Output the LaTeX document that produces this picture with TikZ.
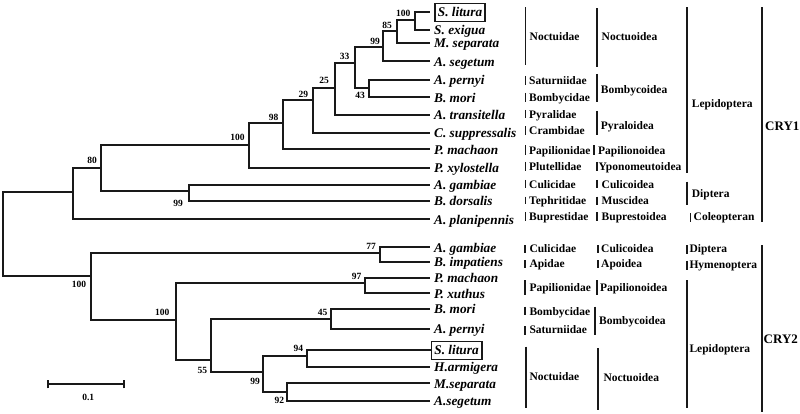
\documentclass[tikz,border=0pt]{standalone}
\usepackage{fontspec}
\setmainfont{Liberation Serif}
\begin{document}
\begin{tikzpicture}[x=1pt,y=-1pt,
  br/.style={line width=1.9pt, draw=black!90, line join=miter},
  bar/.style={line width=1.7pt, draw=black!90},
  sp/.style={anchor=west, inner sep=0pt, font=\fontsize{13.3}{14}\selectfont\bfseries\itshape, text height=8.8, text depth=0},
  spbox/.style={sp, draw=black!90, line width=1.7pt, inner xsep=3pt, inner ysep=4.5pt},
  bs/.style={inner sep=0pt, font=\fontsize{9.5}{10}\selectfont\bfseries},
  fam/.style={anchor=west, inner sep=0pt, font=\fontsize{11.5}{12}\selectfont\bfseries, text height=7.6, text depth=0},
  cry/.style={anchor=west, inner sep=0pt, font=\fontsize{13}{14}\selectfont\bfseries, text height=8.6, text depth=0}
]
\useasboundingbox (0,0) rectangle (800,414);
% ---------- internal nodes ----------
\coordinate (r) at (3,234);
% CRY1
\coordinate (n1) at (73,192);
\coordinate (n2) at (101,168);
\coordinate (n4) at (189,191);
\coordinate (n3) at (249,145);
\coordinate (n5) at (283,123);
\coordinate (n6) at (313,100);
\coordinate (n7) at (335,88);
\coordinate (n8) at (355,63);
\coordinate (n10) at (369,88);
\coordinate (n9) at (383,47);
\coordinate (n11) at (397,31);
\coordinate (n12) at (415,20);
% CRY1 tips
\coordinate (t1) at (430,12);
\coordinate (t2) at (430,30);
\coordinate (t3) at (430,43);
\coordinate (t4) at (430,61);
\coordinate (t5) at (430,80);
\coordinate (t6) at (430,97);
\coordinate (t7) at (430,115);
\coordinate (t8) at (430,133);
\coordinate (t9) at (430,149);
\coordinate (t10) at (430,168);
\coordinate (t11) at (430,185);
\coordinate (t12) at (430,201);
\coordinate (t13) at (430,219);
% CRY2
\coordinate (m1) at (91,276);
\coordinate (m2) at (380,253);
\coordinate (m3) at (176,320);
\coordinate (m4) at (365,283);
\coordinate (m5) at (211,360);
\coordinate (m6) at (331,319);
\coordinate (m7) at (263,372);
\coordinate (m8) at (307,356);
\coordinate (m9) at (287,392);
% CRY2 tips
\coordinate (u1) at (430,247);
\coordinate (u2) at (430,262);
\coordinate (u3) at (430,278);
\coordinate (u4) at (430,293);
\coordinate (u5) at (430,309);
\coordinate (u6) at (430,329);
\coordinate (u7) at (430.5,350);
\coordinate (u8) at (430,367);
\coordinate (u9) at (430,383);
\coordinate (u10) at (430,401);
% ---------- branches ----------
\draw[br] (r) |- (n1);
\draw[br] (r) |- (m1);
\draw[br] (n1) |- (n2);
\draw[br] (n1) |- (t13);
\draw[br] (n2) |- (n3);
\draw[br] (n2) |- (n4);
\draw[br] (n4) |- (t11);
\draw[br] (n4) |- (t12);
\draw[br] (n3) |- (n5);
\draw[br] (n3) |- (t10);
\draw[br] (n5) |- (n6);
\draw[br] (n5) |- (t9);
\draw[br] (n6) |- (n7);
\draw[br] (n6) |- (t8);
\draw[br] (n7) |- (n8);
\draw[br] (n7) |- (t7);
\draw[br] (n8) |- (n9);
\draw[br] (n8) |- (n10);
\draw[br] (n10) |- (t5);
\draw[br] (n10) |- (t6);
\draw[br] (n9) |- (n11);
\draw[br] (n9) |- (t4);
\draw[br] (n11) |- (n12);
\draw[br] (n11) |- (t3);
\draw[br] (n12) |- (t1);
\draw[br] (n12) |- (t2);
\draw[br] (m1) |- (m2);
\draw[br] (m1) |- (m3);
\draw[br] (m2) |- (u1);
\draw[br] (m2) |- (u2);
\draw[br] (m3) |- (m4);
\draw[br] (m3) |- (m5);
\draw[br] (m4) |- (u3);
\draw[br] (m4) |- (u4);
\draw[br] (m5) |- (m6);
\draw[br] (m5) |- (m7);
\draw[br] (m6) |- (u5);
\draw[br] (m6) |- (u6);
\draw[br] (m7) |- (m8);
\draw[br] (m7) |- (m9);
\draw[br] (m8) |- (u7);
\draw[br] (m8) |- (u8);
\draw[br] (m9) |- (u9);
\draw[br] (m9) |- (u10);
% ---------- tip labels ----------
\node[spbox] (l1) at (434,12.5) {S. litura};
\node[sp] (l2) at (434,30.5) {S. exigua};
\node[sp] (l3) at (434,43.5) {M. separata};
\node[sp] (l4) at (434,62) {A. segetum};
\node[sp] (l5) at (434,80.5) {A. pernyi};
\node[sp] (l6) at (434,97.8) {B. mori};
\node[sp] (l7) at (434,115.5) {A. transitella};
\node[sp] (l8) at (434,133.2) {C. suppressalis};
\node[sp] (l9) at (434,149.8) {P. machaon};
\node[sp] (l10) at (434,168.2) {P. xylostella};
\node[sp] (l11) at (434,185.5) {A. gambiae};
\node[sp] (l12) at (434,201.2) {B. dorsalis};
\node[sp] (l13) at (434,219.8) {A. planipennis};
\node[sp] (k1) at (434,247.8) {A. gambiae};
\node[sp] (k2) at (434,262.2) {B. impatiens};
\node[sp] (k3) at (434,278.2) {P. machaon};
\node[sp] (k4) at (434,293.8) {P. xuthus};
\node[sp] (k5) at (434,309.5) {B. mori};
\node[sp] (k6) at (434,329.2) {A. pernyi};
\node[spbox] (k7) at (430.5,350.5) {S. litura};
\node[sp] (k8) at (434,367.2) {H.armigera};
\node[sp] (k9) at (434,383.8) {M.separata};
\node[sp] (k10) at (434,401.2) {A.segetum};
% ---------- bootstrap values ----------
\node[bs] (b1) at (403.3,13.5) {100};
\node[bs] (b2) at (387,25) {85};
\node[bs] (b3) at (375,41) {99};
\node[bs] (b4) at (344.5,56.5) {33};
\node[bs] (b5) at (360,95.7) {43};
\node[bs] (b6) at (324,80) {25};
\node[bs] (b7) at (303.3,94) {29};
\node[bs] (b8) at (273.5,117) {98};
\node[bs] (b9) at (237.5,137.5) {100};
\node[bs] (b10) at (92,160.5) {80};
\node[bs] (b11) at (178,203) {99};
\node[bs] (c1) at (371,246.8) {77};
\node[bs] (c2) at (79,284.8) {100};
\node[bs] (c3) at (356.7,276.2) {97};
\node[bs] (c4) at (162.3,312.8) {100};
\node[bs] (c5) at (322.7,312.8) {45};
\node[bs] (c6) at (202.3,370) {55};
\node[bs] (c7) at (298.3,348) {94};
\node[bs] (c8) at (255,381.7) {99};
\node[bs] (c9) at (279.3,400) {92};
% ---------- scale bar ----------
\coordinate (s1) at (48,384);
\coordinate (s2) at (124,384);
\draw[br] (s1) -- (s2);
\draw[br] ([yshift=-4.3]s1) -- ([yshift=4.3]s1);
\draw[br] ([yshift=-4.3]s2) -- ([yshift=4.3]s2);
\node[bs] (scl) at (88.3,397) {0.1};
% ---------- CRY1 classification ----------
\draw[bar] (525.5,7.3) -- (525.5,65);
\node[fam] at (529.5,36.7) {Noctuidae};
\draw[bar] (525.5,76) -- (525.5,85);
\node[fam] at (529,81) {Saturniidae};
\draw[bar] (525.5,93) -- (525.5,101.7);
\node[fam] at (529,97.7) {Bombycidae};
\draw[bar] (525.5,110) -- (525.5,118.3);
\node[fam] at (529,114.3) {Pyralidae};
\draw[bar] (525.5,126.5) -- (525.5,135);
\node[fam] at (529,131) {Crambidae};
\draw[bar] (525.5,145.5) -- (525.5,155);
\node[fam] at (529,150.7) {Papilionidae};
\draw[bar] (525.5,162) -- (525.5,171);
\node[fam] at (529,166.7) {Plutellidae};
\draw[bar] (525.5,180) -- (525.5,188);
\node[fam] at (529,184.3) {Culicidae};
\draw[bar] (525.5,196.7) -- (525.5,204.5);
\node[fam] at (529,201) {Tephritidae};
\draw[bar] (525.5,212.3) -- (525.5,221);
\node[fam] at (529,216.7) {Buprestidae};
%
\draw[bar] (597.3,8.3) -- (597.3,66.7);
\node[fam] at (601.5,37) {Noctuoidea};
\draw[bar] (596.7,74) -- (596.7,101.7);
\node[fam] at (600.7,89.3) {Bombycoidea};
\draw[bar] (596.7,111) -- (596.7,135);
\node[fam] at (600.7,125.7) {Pyraloidea};
\draw[bar] (594.3,145.5) -- (594.3,155);
\node[fam] at (598,150.7) {Papilionoidea};
\draw[bar] (596.7,162) -- (596.7,171);
\node[fam] at (598.5,166.7) {Yponomeutoidea};
\draw[bar] (596.7,180) -- (596.7,188);
\node[fam] at (601.5,184.3) {Culicoidea};
\draw[bar] (596.7,196.7) -- (596.7,205);
\node[fam] at (601.5,201) {Muscidea};
\draw[bar] (597.3,212.3) -- (597.3,221);
\node[fam] at (601.5,216.7) {Buprestoidea};
%
\draw[bar] (686.7,7.3) -- (686.7,173.3);
\node[fam] at (691.7,103.3) {Lepidoptera};
\draw[bar] (686.7,181.7) -- (686.7,205);
\node[fam] at (691.7,193.3) {Diptera};
\draw[bar] (690.5,213) -- (690.5,221.7);
\node[fam] at (693.5,216.7) {Coleopteran};
%
\draw[bar] (761.7,7.3) -- (761.7,221.7);
\node[cry] at (765,126) {CRY1};
% ---------- CRY2 classification ----------
\draw[bar] (525.3,245) -- (525.3,253.3);
\node[fam] at (529.3,249) {Culicidae};
\draw[bar] (525.3,260) -- (525.3,268.3);
\node[fam] at (529.3,263.3) {Apidae};
\draw[bar] (525.3,280) -- (525.3,295);
\node[fam] at (529.3,287.3) {Papilionidae};
\draw[bar] (525.3,306.7) -- (525.3,315);
\node[fam] at (529.3,311.7) {Bombycidae};
\draw[bar] (525.3,326) -- (525.3,335);
\node[fam] at (529.3,330) {Saturniidae};
\draw[bar] (526,346.7) -- (526,408.3);
\node[fam] at (529.3,376.7) {Noctuidae};
%
\draw[bar] (598,245) -- (598,253.3);
\node[fam] at (601,249) {Culicoidea};
\draw[bar] (598,260) -- (598,268.3);
\node[fam] at (601,263.3) {Apoidea};
\draw[bar] (596.7,280) -- (596.7,295);
\node[fam] at (600,287.3) {Papilionoidea};
\draw[bar] (595,306.7) -- (595,335);
\node[fam] at (599,320.7) {Bombycoidea};
\draw[bar] (597.7,348.3) -- (597.7,410);
\node[fam] at (603.3,377.3) {Noctuoidea};
%
\draw[bar] (686.7,245) -- (686.7,254);
\node[fam] at (689.3,249) {Diptera};
\draw[bar] (686.7,260.7) -- (686.7,270);
\node[fam] at (689.3,265) {Hymenoptera};
\draw[bar] (686.7,280) -- (686.7,408.3);
\node[fam] at (689.3,348.3) {Lepidoptera};
%
\draw[bar] (761.7,245) -- (761.7,411.7);
\node[cry] at (763.5,339) {CRY2};
\end{tikzpicture}
\end{document}
